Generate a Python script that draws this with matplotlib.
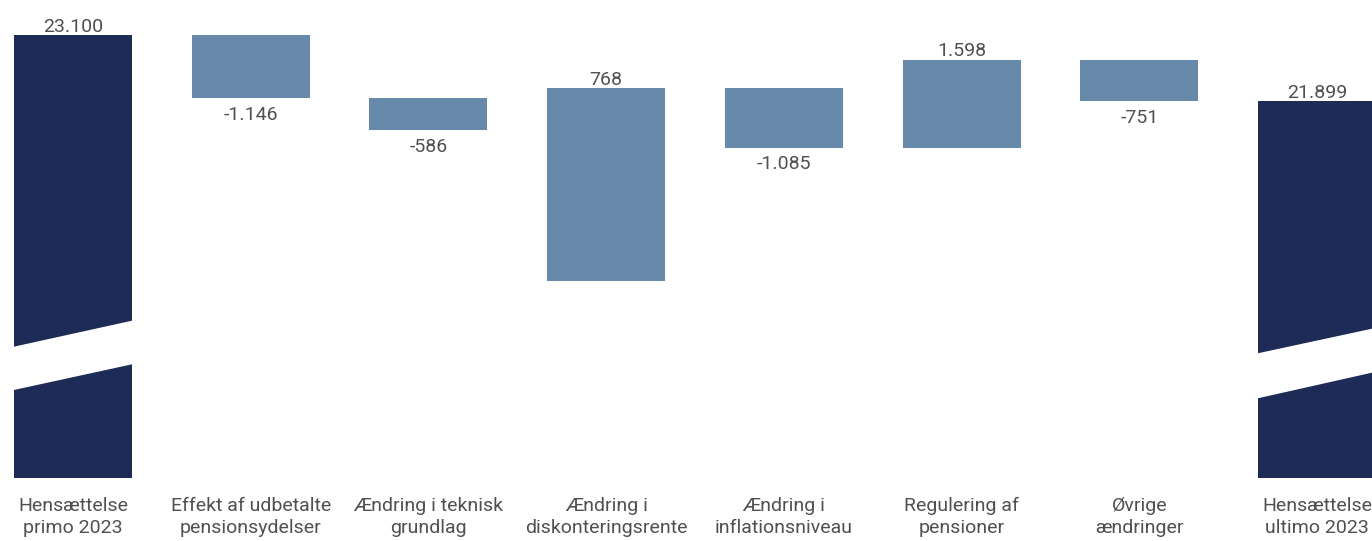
import matplotlib.pyplot as plt
from matplotlib.patches import Polygon
from matplotlib.transforms import blended_transform_factory

# Waterfall chart: pension provisions 2023 (broken bars on the totals)

categories = ["Hensættelse\nprimo 2023", "Effekt af udbetalte\npensionsydelser",
              "Ændring i teknisk\ngrundlag", "Ændring i\ndiskonteringsrente",
              "Ændring i\ninflationsniveau", "Regulering af\npensioner",
              "Øvrige\nændringer", "Hensættelse\nultimo 2023"]
value_labels = ["23.100", "-1.146", "-586", "768", "-1.085", "1.598", "-751", "21.899"]
deltas = [23100, -1146, -586, 768, -1085, 1598, -751, 21899]
is_total = [True, False, False, False, False, False, False, True]
# the 768 bar in the source is drawn much taller than its value; bottom
bar_bottom_override = {3: 18630}

DARK = "#1d2b56"
LIGHT = "#6789aa"
TEXT = "#505050"

plt.rcParams['font.family'] = ['Roboto', 'DejaVu Sans']

fig = plt.figure(figsize=(13.72, 5.41), dpi=100)
ax = fig.add_axes([0, 63 / 541, 1, 478 / 541])
ax.set_xlim(-0.4108, 7.3097)
ax.set_ylim(15038, 23737)
ax.axis("off")

width = 0.664
floor = 15038
running = 0
for i, d in enumerate(deltas):
    if is_total[i]:
        lo, hi = floor, d
        running = d
        color = DARK
        top_label = True
    else:
        start = running
        running = running + d
        lo, hi = min(start, running), max(start, running)
        if i in bar_bottom_override:
            lo = bar_bottom_override[i]
        color = LIGHT
        top_label = d > 0
    ax.bar(i, hi - lo, bottom=lo, width=width, color=color, linewidth=0)
    if top_label:
        ax.annotate(value_labels[i], (i, hi), xytext=(0, 2.5), textcoords="offset points",
                    ha="center", va="baseline", fontsize=14, color=TEXT)
    else:
        ax.annotate(value_labels[i], (i, lo), xytext=(0, -5.5), textcoords="offset points",
                    ha="center", va="top", fontsize=14, color=TEXT)

# white slanted bands that mark the broken total bars
breaks = {0: (17428, 17901, 16640, 17107), 7: (17308, 17755, 16489, 16955)}
for i, (ul, ur, ll, lr) in breaks.items():
    xl, xr = i - width / 2, (i + width / 2 if i == 0 else 7.3097)
    x0, x1 = xl - 0.05, xr + 0.05
    slope_u = (ur - ul) / (xr - xl)
    slope_l = (lr - ll) / (xr - xl)
    pts = [(x0, ul + slope_u * (x0 - xl)), (x1, ul + slope_u * (x1 - xl)),
           (x1, ll + slope_l * (x1 - xl)), (x0, ll + slope_l * (x0 - xl))]
    ax.add_patch(Polygon(pts, closed=True, facecolor="white", edgecolor="none", zorder=3))

trans = blended_transform_factory(ax.transData, fig.transFigure)
for i, c in enumerate(categories):
    ax.text(i, 1 - 497 / 541, c, transform=trans, ha="center", va="top", fontsize=14,
            color=TEXT, linespacing=1.28, clip_on=False)

fig.savefig("out.png", dpi=100)
